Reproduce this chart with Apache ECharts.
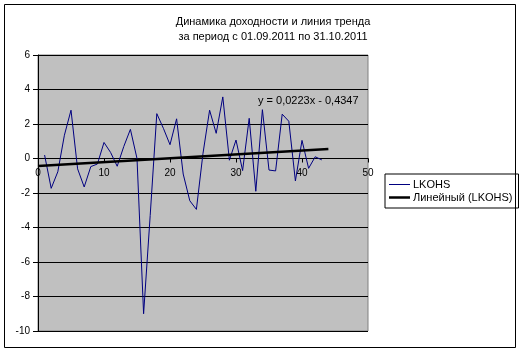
<!DOCTYPE html>
<html><head><meta charset="utf-8">
<script src="https://cdn.jsdelivr.net/npm/echarts@6/dist/echarts.min.js"></script>
<style>html,body{margin:0;padding:0;background:#fff}#c{width:520px;height:352px}</style>
</head><body><div id="c"></div>
<script>
const days = [1,2,3,4,5,6,7,8,9,10,11,12,13,14,15,16,17,18,19,20,21,22,23,24,25,26,27,28,29,30,31,32,33,34,35,36,37,38,39,40,41,42,43];
const lkohs = [0.2,-1.73,-0.77,1.35,2.8,-0.6,-1.65,-0.47,-0.32,0.93,0.35,-0.45,0.7,1.69,0.0,-9.0,-3.3,2.6,1.75,0.8,2.3,-0.9,-2.45,-2.95,0.3,2.8,1.46,3.57,-0.1,1.07,-0.7,2.33,-1.9,2.83,-0.67,-0.72,2.57,2.16,-1.3,1.05,-0.57,0.1,-0.08];
const trendX = [0, 44];
const trendY = [-0.4347, 0.5465];
const seriesNames = ['LKOHS', 'Линейный (LKOHS)'];
const titleLines = ['Динамика доходности и линия тренда', 'за период с 01.09.2011 по 31.10.2011'];
const trendLabel = 'y = 0,0223x - 0,4347';
const yMin = -10, yMax = 6, yStep = 2;
const xMin = 0, xMax = 50, xStep = 10;

const FONT = "'Liberation Sans', Arial, sans-serif";
const GRID = {left: 38, top: 55, width: 330, height: 276};
// place the x axis where y = 0 (Excel-style crossing)
const xAxisOffset = -GRID.height * (0 - yMin) / (yMax - yMin);

const chart = echarts.init(document.getElementById('c'), null, {renderer: 'canvas'});
chart.setOption({
  animation: false,
  backgroundColor: '#fff',
  textStyle: {fontFamily: FONT},
  title: {
    text: titleLines.join('\n'),
    left: 273, top: 14, textAlign: 'center', padding: 0,
    textStyle: {fontSize: 11, fontWeight: 'normal', color: '#000', lineHeight: 15, fontFamily: FONT}
  },
  grid: Object.assign({show: true, backgroundColor: '#C0C0C0', borderColor: '#808080', borderWidth: 1, containLabel: false}, GRID),
  legend: {
    orient: 'vertical', left: 385, top: 174, padding: [5, 6, 5, 4],
    itemWidth: 21, itemHeight: 12, itemGap: 2,
    borderColor: '#000', borderWidth: 1, backgroundColor: '#fff',
    itemStyle: {borderWidth: 0},
    textStyle: {fontSize: 11, color: '#000', fontFamily: FONT, padding: [0,0,0,-2]},
    data: [
      {name: seriesNames[0], icon: 'path://M0,0 H21 V1 H0 Z'},
      {name: seriesNames[1], icon: 'path://M0,0 H21 V2.5 H0 Z'}
    ]
  },
  xAxis: {
    type: 'value', min: xMin, max: xMax, interval: xStep,
    offset: xAxisOffset,
    axisLine: {onZero: false, lineStyle: {color: '#000', width: 1}},
    axisTick: {show: true, length: 4, lineStyle: {color: '#000'}},
    axisLabel: {fontSize: 10, color: '#000', margin: 10, fontFamily: FONT},
    splitLine: {show: false}
  },
  yAxis: {
    type: 'value', min: yMin, max: yMax, interval: yStep,
    axisLine: {show: true, onZero: false, lineStyle: {color: '#000', width: 1}},
    axisTick: {show: true, length: 5, lineStyle: {color: '#000'}},
    axisLabel: {fontSize: 10, color: '#000', margin: 8, fontFamily: FONT},
    splitLine: {show: true, lineStyle: {color: '#000', width: 1}}
  },
  series: [
    {name: seriesNames[0], type: 'line', data: days.map((d,i)=>[d, lkohs[i]]), symbol: 'none',
     lineStyle: {color: '#000080', width: 1}, itemStyle: {color: '#000080'}, z: 3},
    {name: seriesNames[1], type: 'line', data: trendX.map((d,i)=>[d, trendY[i]]), symbol: 'none',
     lineStyle: {color: '#000', width: 2.5}, itemStyle: {color: '#000'}, z: 4}
  ],
  graphic: [
    {type: 'rect', shape: {x: 4.5, y: 4.5, width: 511, height: 343}, style: {fill: 'none', stroke: '#000', lineWidth: 1}, z: 100},
    {type: 'text', x: 258, y: 101, style: {text: trendLabel, fontSize: 11, fontFamily: FONT, fill: '#000', verticalAlign: 'middle', textAlign: 'left'}, z: 100}
  ]
});
</script></body></html>
